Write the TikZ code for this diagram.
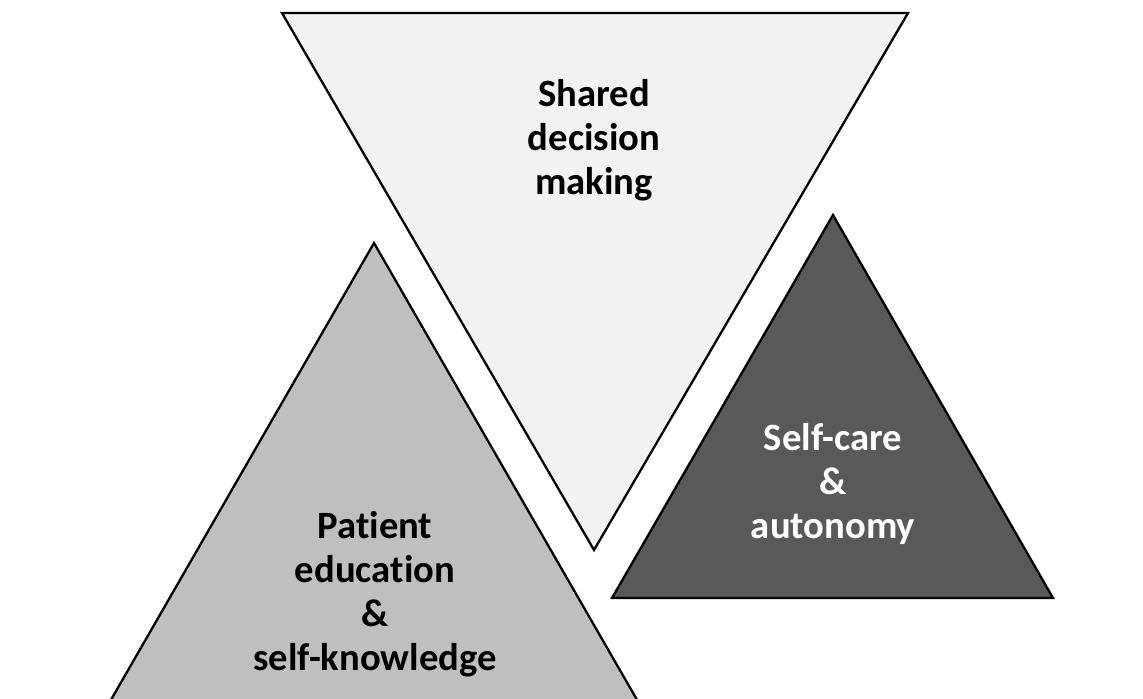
\documentclass[tikz,border=0pt]{standalone}
\usepackage{fontspec}
\setmainfont{Carlito}[Ligatures=NoCommon]
\definecolor{shadelight}{RGB}{242,242,242}
\definecolor{shademid}{RGB}{191,191,191}
\definecolor{shadedark}{RGB}{89,89,89}
\begin{document}
\begin{tikzpicture}[x=0.02cm,y=-0.02cm,
  tri/.style={draw=black,line width=1.3pt,line join=miter},
  lbl/.style={align=center,font=\bfseries\fontsize{22}{25}\selectfont}]
\useasboundingbox (0,0) rectangle (1143,698);

        % shared decision making (upside down)
        \filldraw[tri,fill=shadelight] (282,13)--(908,13)--(594,550)--cycle;
        % patient education
        \filldraw[tri,fill=shademid] (374,243)--(640,705)--(108,705)--cycle;
        % self-care
        \filldraw[tri,fill=shadedark] (833,215)--(1053,598)--(612,598)--cycle;

        \node[lbl] (shared) at (594,140) {Shared\\decision\\making};
        \node[lbl] (patient) at (375,594) {Patient\\education\\\&\\self-knowledge};
        \node[lbl,text=white] (selfcare) at (833,484) {Self-care\\\&\\autonomy};

\end{tikzpicture}
\end{document}
